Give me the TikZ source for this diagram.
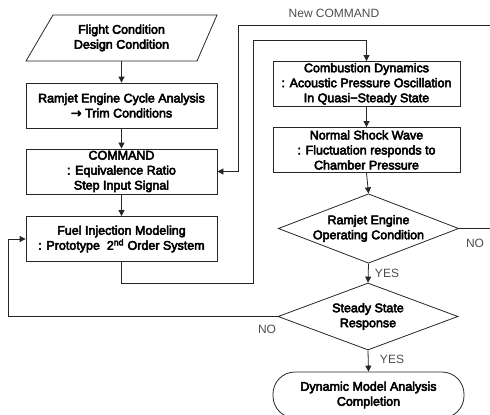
\documentclass[tikz,border=0pt]{standalone}
\usepackage{fontspec}
\setmainfont{Liberation Sans}
\newfontfamily\boxfont{Liberation Sans}[FakeBold=4]
\newfontfamily\arrowfont{DejaVu Sans}[FakeBold=3]
\usetikzlibrary{arrows.meta,shapes.geometric}

\begin{document}
\begin{tikzpicture}[x=1pt,y=-1pt,
  line/.style={draw=black!85, line width=0.8pt},
  flow/.style={line, -{Triangle[length=6pt,width=6pt]}},
  txt/.style={inner sep=0pt, align=center, text=black,
    font=\boxfont\fontsize{12.5}{15}\selectfont},
  proc/.style={txt, line, minimum width=191pt, minimum height=45pt},
  dproc/.style={proc, minimum width=187pt},
  decide/.style={txt, line, shape=diamond, aspect=2.6},
  term/.style={txt, line, rounded corners=22pt, minimum width=191pt, minimum height=46pt},
  lbl/.style={inner sep=0pt, text=black!70, font=\fontsize{12}{14}\selectfont}
]
\useasboundingbox (0,0) rectangle (490,415);

% left column
\node[txt, minimum width=164pt, minimum height=46pt] (input) at (121.5,38)
  {Flight Condition\\Design Condition};
\draw[line] (53,15) -- (217,15) -- (197,61) -- (26,61) -- cycle;
\node[proc] (cycle) at (121.5,105.5) {Ramjet Engine Cycle Analysis\\{\arrowfont\fontsize{13}{15}\selectfont →} Trim Conditions};
\node[proc] (cmd) at (121.5,171.5) {COMMAND\\: Equivalence Ratio\\Step Input Signal};
\node[proc] (fuel) at (121.5,239) {Fuel Injection Modeling\\: Prototype\ \ 2\textsuperscript{nd} Order System};

% right column
\node[dproc] (comb) at (366.5,84) {Combustion Dynamics\\: Acoustic Pressure Oscillation\\In Quasi−Steady State};
\node[dproc] (shock) at (366.5,150) {Normal Shock Wave\\: Fluctuation responds to\\Chamber Pressure};
\node[decide, minimum width=177pt, minimum height=67pt] (op) at (368.5,228.5) {Ramjet Engine\\Operating Condition};
\node[decide, minimum width=180pt, minimum height=67pt] (steady) at (368,316.5) {Steady State\\Response};
\node[term] (done) at (368.5,395) {Dynamic Model Analysis\\Completion};

% route points
\coordinate (loopA) at (253,283);
\coordinate (loopB) at (253,40);
\coordinate (newIn) at (491,25);
\coordinate (newCorner) at (238,25);
\coordinate (noOut) at (491,228.5);
\coordinate (fbCorner) at (8,316.5);

% connectors
\draw[flow] (input.south) -- (cycle.north);
\draw[flow] (cycle) -- (cmd);
\draw[flow] (cmd) -- (fuel);
\draw[flow] (fuel.south) -- (fuel.south |- loopA) -- (loopA) -- (loopB) -- (loopB -| comb.north) -- (comb.north);
\draw[flow] (comb) -- (shock);
\draw[flow] (shock.south) -- (op.north);
\draw[flow] (op.south) -- (steady.north);
\draw[flow] (steady.south) -- (done.north);
\draw[line] (op.east) -- (noOut);
\draw[flow] (newIn) -- (newCorner) |- (cmd.east);
\draw[flow] (steady.west) -- (fbCorner) |- (fuel.west);

% labels
\node[lbl] (newlbl) at (334,13) {New COMMAND};
\node[lbl] (no1) at (475,243) {NO};
\node[lbl] (yes1) at (387,273) {YES};
\node[lbl] (no2) at (267,329) {NO};
\node[lbl] (yes2) at (392,359) {YES};
\end{tikzpicture}
\end{document}
